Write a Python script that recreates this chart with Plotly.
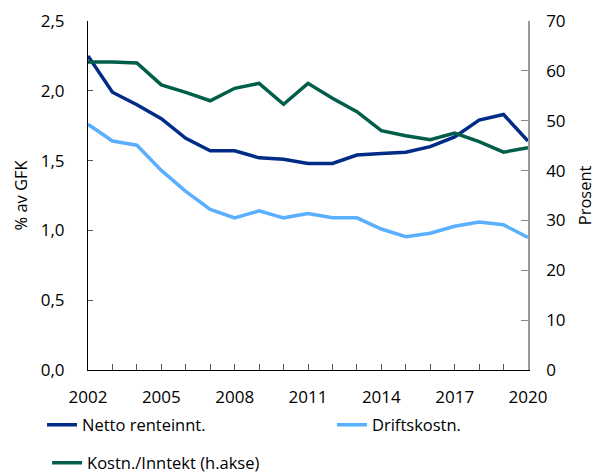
import plotly.graph_objects as go

years = list(range(2002, 2021))
netto = [2.25, 1.99, 1.90, 1.80, 1.66, 1.57, 1.57, 1.52, 1.51, 1.48, 1.48,
         1.54, 1.55, 1.56, 1.60, 1.67, 1.79, 1.83, 1.64]
drift = [1.76, 1.64, 1.61, 1.43, 1.28, 1.15, 1.09, 1.14, 1.09, 1.12, 1.09,
         1.09, 1.01, 0.955, 0.98, 1.03, 1.06, 1.04, 0.95]
kostn = [61.8, 61.8, 61.6, 57.2, 55.7, 54.0, 56.5, 57.5, 53.3, 57.5, 54.5,
         51.8, 48.0, 47.0, 46.2, 47.5, 45.8, 43.7, 44.6]
xticks = [2002, 2005, 2008, 2011, 2014, 2017, 2020]

C_NETTO = "#002b87"
C_DRIFT = "#5aafff"
C_KOSTN = "#005e4a"
FONT = "Open Sans"
FS = 17
FL = 16.5

fig = go.Figure()
fig.add_trace(go.Scatter(x=years, y=netto, mode="lines", name="Netto renteinnt.",
                         line=dict(color=C_NETTO, width=3.5), legend="legend"))
fig.add_trace(go.Scatter(x=years, y=drift, mode="lines", name="Driftskostn.",
                         line=dict(color=C_DRIFT, width=3.5), legend="legend2"))
fig.add_trace(go.Scatter(x=years, y=kostn, mode="lines", name="Kostn./Inntekt (h.akse)",
                         line=dict(color=C_KOSTN, width=3.5), yaxis="y2", legend="legend3"))

leg_common = dict(font=dict(family=FONT, size=FL), bgcolor="rgba(0,0,0,0)",
                  xanchor="left", yanchor="middle", orientation="h")

fig.update_layout(
    width=596, height=474,
    margin=dict(l=88, r=68, t=21, b=104, autoexpand=False),
    paper_bgcolor="white", plot_bgcolor="white",
    font=dict(family=FONT, size=FS, color="black"),
    separators=",.",
    showlegend=True,
    xaxis=dict(range=[2002, 2020], tickvals=xticks, ticks="inside", ticklen=6,
               tickcolor="#555", showline=True, linecolor="black", linewidth=1,
               showgrid=False, zeroline=False, ticklabelstandoff=12, automargin=False,
               minor=dict(dtick=1, tick0=2002, ticks="inside", ticklen=6, tickcolor="#555",
                          showgrid=False)),
    yaxis=dict(range=[0, 2.5], dtick=0.5, tickformat=".1f", ticks="inside", ticklen=5,
               tickcolor="#555", showline=True, linecolor="black", linewidth=1,
               showgrid=False, zeroline=False, ticklabelstandoff=19, automargin=False),
    yaxis2=dict(range=[0, 70], dtick=10, overlaying="y", side="right", ticks="inside",
                ticklen=7, tickcolor="#888", showline=True, linecolor="#999", linewidth=1.5,
                showgrid=False, zeroline=False, ticklabelstandoff=13, automargin=False),
    legend=dict(x=-0.1045, y=-0.158, **leg_common),
    legend2=dict(x=0.5545, y=-0.158, **leg_common),
    legend3=dict(x=-0.093, y=-0.2665, **leg_common),
    annotations=[
        dict(text="% av GFK", xref="paper", yref="paper", x=-0.1545, y=0.5,
             xanchor="center", yanchor="middle", textangle=-90, showarrow=False,
             font=dict(family=FONT, size=FL)),
        dict(text="Prosent", xref="paper", yref="paper", x=1.129, y=0.5,
             xanchor="center", yanchor="middle", textangle=-90, showarrow=False,
             font=dict(family=FONT, size=FL)),
    ],
)

fig.write_html("out.html", config={"displayModeBar": False},
               post_script="document.body.style.margin='0';")
